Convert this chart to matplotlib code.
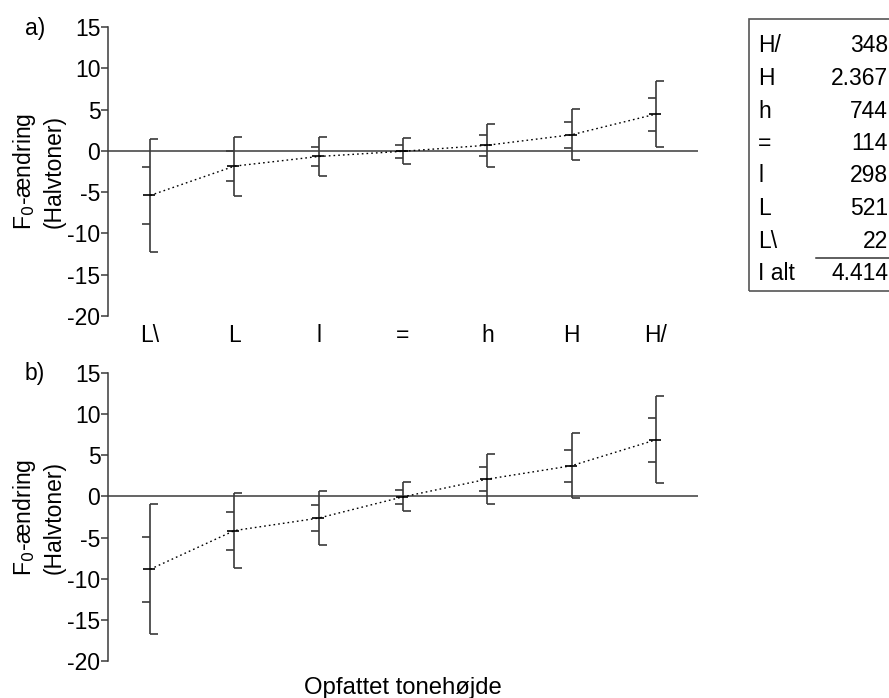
import matplotlib
matplotlib.use("Agg")
import matplotlib.pyplot as plt
from matplotlib.markers import MarkerStyle
from matplotlib.path import Path
from matplotlib.patches import Rectangle
from matplotlib.lines import Line2D
from matplotlib.transforms import blended_transform_factory

plt.rcParams['font.family'] = ['Liberation Sans', 'DejaVu Sans']
plt.rcParams['axes.unicode_minus'] = False

# Perceived pitch categories (low to high)
categories = ['L\\', 'L', 'l', '=', 'h', 'H', 'H/']

# a) mean F0 change and standard deviation (semitones)
a_mean = [-5.4, -1.85, -0.68, -0.05, 0.68, 1.95, 4.45]
a_sd = [3.4, 1.78, 1.17, 0.78, 1.29, 1.55, 2.0]

# b) mean F0 change and standard deviation (semitones)
b_mean = [-8.85, -4.15, -2.63, -0.05, 2.1, 3.73, 6.88]
b_sd = [3.95, 2.3, 1.63, 0.88, 1.5, 1.96, 2.64]

# Number of tokens per category
table_labels = ['H/', 'H', 'h', '=', 'l', 'L', 'L\\']
table_counts = ['348', '2.367', '744', '114', '298', '521', '22']
total_label = 'I alt'
total_count = '4.414'

W, H = 889, 698
FS = 16.5
fig = plt.figure(figsize=(W / 100, H / 100), dpi=100)


def px_axes(left, right, top, bottom):
    return fig.add_axes([left / W, 1 - bottom / H, (right - left) / W, (bottom - top) / H])


# marker shapes: cap pointing right, tick pointing left, mean tick across
cap_right = MarkerStyle(Path([(0, 0), (1, 0)], [Path.MOVETO, Path.LINETO]))
tick_left = MarkerStyle(Path([(-1, 0), (0, 0)], [Path.MOVETO, Path.LINETO]))
mean_tick = MarkerStyle(Path([(-1, 0), (0.7, 0)], [Path.MOVETO, Path.LINETO]))

bar_color = '#3a3a3a'


def draw_panel(ax, means, sds, tag, tag_y):
    xs = list(range(len(means)))
    ax.set_xlim(-0.5, len(means) - 0.5)
    ax.set_ylim(-20, 15)
    ax.axhline(0, color='#4a4a4a', lw=1.2, zorder=1)
    for x, m, s in zip(xs, means, sds):
        ax.plot([x, x], [m - 2 * s, m + 2 * s], color=bar_color, lw=1.2,
                solid_capstyle='butt', zorder=2)
        ax.plot([x, x], [m - 2 * s, m + 2 * s], ls='none', marker=cap_right,
                ms=12, mec=bar_color, mew=1.2, zorder=2)
        ax.plot([x, x], [m - s, m + s], ls='none', marker=tick_left,
                ms=12, mec=bar_color, mew=1.2, zorder=2)
        ax.plot([x], [m], ls='none', marker=mean_tick, ms=10,
                mec='black', mew=1.2, zorder=3)
    ax.plot(xs, means, ls=(0, (1.2, 2.2)), color='black', lw=1.0, zorder=3)

    for sp in ('top', 'right', 'bottom'):
        ax.spines[sp].set_visible(False)
    ax.spines['left'].set_color('#3a3a3a')
    ax.spines['left'].set_linewidth(1.1)
    ax.set_xticks([])
    ax.set_yticks([15, 10, 5, 0, -5, -10, -15, -20])
    ax.tick_params(axis='y', direction='out', length=5, width=1.1,
                   color='#3a3a3a', labelsize=FS, pad=0.5)

    # two-line y label, centred on the axis height
    pos = ax.get_position()
    fig.text(38 / W, (pos.y0 + pos.y1) / 2, 'F$_0$-ændring\n(Halvtoner)',
             fontsize=FS, rotation=90, ha='center', va='center',
             linespacing=1.25, multialignment='center')
    fig.text(35 / W, 1 - tag_y / H, tag, fontsize=FS, ha='center', va='center')
    return ax


ax_a = px_axes(108, 698, 27, 316)
draw_panel(ax_a, a_mean, a_sd, 'a)', 28)
ax_b = px_axes(108, 698, 373, 661)
draw_panel(ax_b, b_mean, b_sd, 'b)', 373)

# category names under panel a
trans = blended_transform_factory(ax_a.transData, fig.transFigure)
for i, c in enumerate(categories):
    ax_a.text(i, 1 - 336 / H, c, transform=trans, fontsize=FS,
              ha='center', va='center', clip_on=False)

fig.text(403 / W, 1 - 688 / H, 'Opfattet tonehøjde', fontsize=17.2,
         ha='center', va='center')

# token count table in the upper right corner
fig.add_artist(Rectangle((749 / W, 1 - 291 / H), 200 / W, 272 / H,
                         transform=fig.transFigure, fill=False,
                         ec='#555555', lw=1.2))
row_y0, row_dy = 46, 32.5
for i, (lab, cnt) in enumerate(zip(table_labels, table_counts)):
    y = 1 - (row_y0 + i * row_dy) / H
    fig.text(758 / W, y, lab, fontsize=FS, ha='left', va='center')
    fig.text(888 / W, y, cnt, fontsize=FS, ha='right', va='center')
y_tot = 1 - (row_y0 + 7 * row_dy) / H
fig.add_artist(Line2D([816 / W, 1.0], [1 - 258 / H, 1 - 258 / H],
                      transform=fig.transFigure, color='#333333', lw=1.1))
fig.text(758 / W, y_tot, total_label, fontsize=FS, ha='left', va='center')
fig.text(888 / W, y_tot, total_count, fontsize=FS, ha='right', va='center')

fig.savefig('out.png', dpi=100)
